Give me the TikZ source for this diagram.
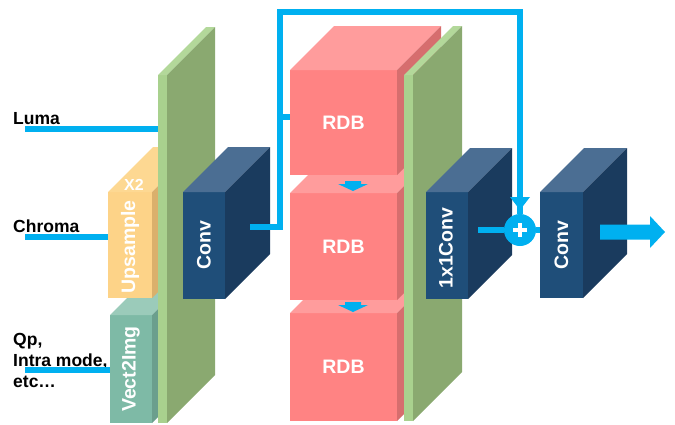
\documentclass[tikz,border=0pt]{standalone}
\usepackage{fontspec}
\setmainfont{Liberation Sans}
\usetikzlibrary{arrows.meta,calc}
\definecolor{lineblue}{HTML}{00B0F0}
\definecolor{grnfront}{HTML}{A9D18E}
\definecolor{grnside}{HTML}{8AA970}
\definecolor{grntop}{HTML}{B3D89A}
\definecolor{ylwfront}{HTML}{FDD388}
\definecolor{ylwtop}{HTML}{FDD892}
\definecolor{ylwside}{HTML}{DAB06C}
\definecolor{tealfront}{HTML}{7EBAA6}
\definecolor{tealtop}{HTML}{9BCBBA}
\definecolor{tealside}{HTML}{6B9F8D}
\definecolor{navyfront}{HTML}{1F4E79}
\definecolor{navytop}{HTML}{4B6E93}
\definecolor{navyside}{HTML}{1A3B5E}
\definecolor{pinkfront}{HTML}{FF8383}
\definecolor{pinktop}{HTML}{FF9C9C}
\definecolor{pinkside}{HTML}{D66E6E}
% name, cx, cy, w, h, colour prefix, depth
\newcommand\blk[7]{%
  \node[face, fill=#6front, minimum width=#4pt, minimum height=#5pt] (#1) at (#2,#3) {};
  \fill[#6top] (#1.north west) -- (#1.north east) -- ++(#7,-#7) -- ++(-#4,0) -- cycle;
  \fill[#6side] (#1.north east) -- ++(#7,-#7) -- ++(0,#5) -- (#1.south east) -- cycle;}
\tikzset{
  face/.style={inner sep=0pt, outer sep=0pt, draw=none},
  wire/.style={draw=lineblue, line width=6pt},
  inlabel/.style={anchor=base west, inner sep=0pt, text=black, font=\bfseries\fontsize{17.5}{21}\selectfont},
  boxlabel/.style={inner sep=0pt, text=white, font=\bfseries\fontsize{19.5}{20}\selectfont},
  vlabel/.style={boxlabel, rotate=90},
}
\begin{document}
\begin{tikzpicture}[x=1pt,y=-1pt]
\useasboundingbox (0,0) rectangle (675,424);
% left column
\blk{vec}{131}{369}{42}{108}{teal}{45}
\blk{ups}{130}{245}{44}{106}{ylw}{45}
\blk{slabA}{162.5}{249}{9}{348}{grn}{48}
% input labels and wires
\node[inlabel] (luma) at (13,124) {Luma};
\node[inlabel] (chroma) at (13,232) {Chroma};
\node[inlabel] (qp1) at (13,345) {Qp,};
\node[inlabel] (qp2) at (13,366) {Intra mode,};
\node[inlabel] (qp3) at (13,387) {etc\dots};
\coordinate (lumaS) at (25,128.5);
\coordinate (chromaS) at (25,236.5);
\coordinate (qpS) at (25,369.5);
\draw[wire] (lumaS) -- (lumaS -| slabA.west);
\draw[wire] (chromaS) -- (chromaS -| ups.west);
\draw[wire] (qpS) -- (qpS -| vec.west);
% conv
\blk{conv1}{204}{245.5}{42}{107}{navy}{45}
% RDBs
\blk{rdb3}{343.5}{367}{107}{108}{pink}{44}
\blk{rdb2}{343.5}{246.5}{107}{107}{pink}{44}
\blk{rdb1}{343.5}{122.5}{107}{105}{pink}{44}
\blk{slabB}{408.5}{248}{9}{346}{grn}{49}
\blk{cv11}{447}{245.5}{42}{107}{navy}{44}
\blk{conv2}{561.5}{245}{43}{106}{navy}{44}
% plus
\node[circle, fill=lineblue, minimum size=32pt, inner sep=0pt] (plus) at (520,230) {};
\draw[white, line width=3.2pt] ($(plus)+(-7,0)$) -- ($(plus)+(7,0)$);
\draw[white, line width=3.2pt] ($(plus)+(0,-7)$) -- ($(plus)+(0,7)$);
% skip connection
\coordinate (c1out) at (250,227);
\coordinate (jA) at (279.5,11.5);
\coordinate (jB) at (520,11.5);
\coordinate (stub) at (279.5,117);
\draw[wire] (c1out) -| (jA) -- (jB) -- (plus.north);
\fill[lineblue] (jB |- 0,197) ++(-10,0) -- ++(20,0) -- ++(-10,13) -- cycle;
\draw[wire] (stub) -- (stub -| rdb1.west);
\coordinate (c11out) at (478,230);
\draw[wire] (c11out) -- (plus) -- (plus -| conv2.west);
% small arrows between RDBs
\coordinate (d1) at (353,181);
\coordinate (d2) at (353,302);
\foreach \p in {d1,d2}{
  \fill[lineblue] (\p) ++(-8,0) -- ++(16,0) -- ++(0,3) -- ++(7,0) -- ++(-15,7) -- ++(-15,-7) -- ++(7,0) -- cycle;
}
% output arrow
\coordinate (outA) at (600,232);
\coordinate (outB) at (665,232);
\fill[lineblue] ($(outA)+(0,-7.5)$) -- ($(outB)+(-15,-7.5)$) -- ($(outB)+(-15,-16)$) -- (outB) -- ($(outB)+(-15,16)$) -- ($(outB)+(-15,7.5)$) -- ($(outA)+(0,7.5)$) -- cycle;
% box labels
\node[boxlabel, font=\bfseries\fontsize{16}{16}\selectfont] at (134,185) {X2};
\node[vlabel] at ($(ups.center)+(0,2)$) {Upsample};
\node[vlabel] at (vec.center) {Vect2Img};
\node[vlabel] at (conv1.center) {Conv};
\node[boxlabel] at (rdb1.center) {RDB};
\node[boxlabel] at (rdb2.center) {RDB};
\node[boxlabel] at (rdb3.center) {RDB};
\node[vlabel] at ($(cv11.center)+(-1,2.5)$) {1x1Conv};
\node[vlabel] at (conv2.center) {Conv};
\end{tikzpicture}
\end{document}
